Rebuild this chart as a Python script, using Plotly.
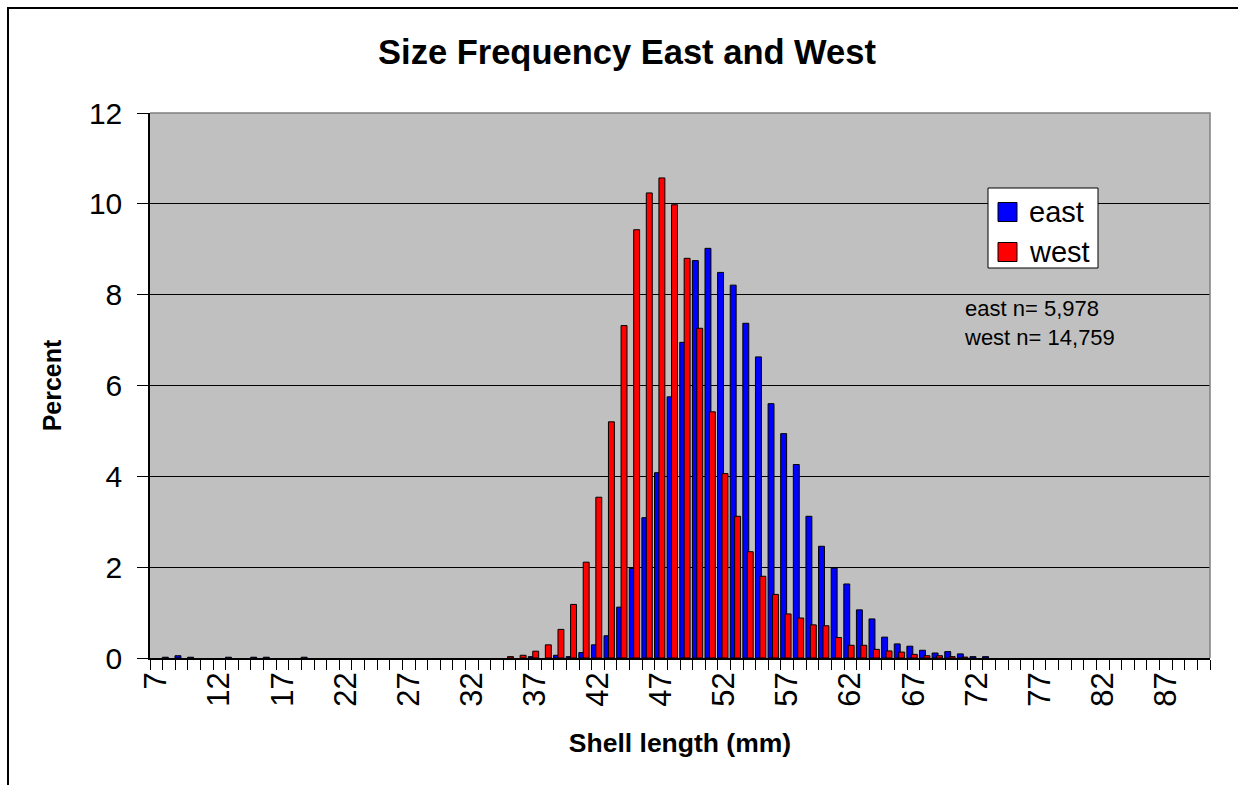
import plotly.graph_objects as go

# Shell length categories (mm)
categories = list(range(7, 91))

# Percent of shells per length class, east sample (7..90 mm)
east = [
    0, 0.017, 0.05, 0.017, 0, 0, 0.017, 0, 0.017, 0.017,      # 7-16
    0, 0, 0.017, 0, 0, 0, 0, 0, 0, 0,                         # 17-26
    0, 0, 0, 0, 0, 0, 0, 0, 0, 0,                             # 27-36
    0.03, 0, 0.06, 0.03, 0.12, 0.29, 0.49, 1.12, 1.97, 3.09,  # 37-46
    4.08, 5.75, 6.95, 8.75, 9.02, 8.49, 8.21, 7.37, 6.63, 5.60,  # 47-56
    4.94, 4.26, 3.12, 2.46, 1.98, 1.63, 1.06, 0.86, 0.46, 0.31,  # 57-66
    0.26, 0.17, 0.11, 0.14, 0.09, 0.03, 0.03, 0, 0, 0,        # 67-76
    0, 0, 0, 0, 0, 0, 0, 0, 0, 0,                             # 77-86
    0, 0, 0, 0,                                               # 87-90
]

# Percent of shells per length class, west sample (7..90 mm)
west = [
    0, 0, 0, 0, 0, 0, 0, 0, 0, 0,                             # 7-16
    0, 0, 0, 0, 0, 0, 0, 0, 0, 0,                             # 17-26
    0, 0, 0, 0, 0, 0, 0, 0, 0.03, 0.06,                       # 27-36
    0.15, 0.29, 0.63, 1.18, 2.11, 3.54, 5.20, 7.32, 9.43, 10.24,  # 37-46
    10.57, 9.98, 8.80, 7.26, 5.42, 4.06, 3.12, 2.34, 1.80, 1.40,  # 47-56
    0.97, 0.88, 0.73, 0.71, 0.45, 0.28, 0.28, 0.19, 0.155, 0.13,  # 57-66
    0.08, 0.05, 0.05, 0.03, 0.02, 0, 0, 0, 0, 0,             # 67-76
    0, 0, 0, 0, 0, 0, 0, 0, 0, 0,                             # 77-86
    0, 0, 0, 0,                                               # 87-90
]

series_names = ["east", "west"]
series_colors = ["#0000FF", "#FF0000"]
tick_labels = [str(v) for v in range(7, 91, 5)]
y_ticks = [0, 2, 4, 6, 8, 10, 12]

assert len(east) == len(categories) == len(west)

FONT = "Arial, Liberation Sans, sans-serif"


def nz(vals):
    # empty classes are not drawn at all (as in the original)
    return [v if v > 0 else None for v in vals]


fig = go.Figure()
fig.add_trace(go.Bar(
    x=categories, y=nz(east), name=series_names[0],
    marker=dict(color=series_colors[0], line=dict(color="black", width=1)),
    offset=-0.52, width=0.47, showlegend=False,
))
fig.add_trace(go.Bar(
    x=categories, y=nz(west), name=series_names[1],
    marker=dict(color=series_colors[1], line=dict(color="black", width=1)),
    offset=-0.17, width=0.47, showlegend=False,
))

fig.update_layout(
    width=1238, height=785,
    margin=dict(l=150, r=28, t=113, b=127),
    paper_bgcolor="white",
    plot_bgcolor="#C0C0C0",
    barmode="overlay",
    font=dict(family=FONT, color="black"),
    title=dict(
        text="<b>Size Frequency East and West</b>",
        font=dict(size=34.5, family=FONT, color="black"),
        x=627 / 1238, xref="container", xanchor="center",
        y=1 - 52 / 785, yref="container", yanchor="middle",
    ),
    showlegend=False,
)

fig.update_xaxes(
    range=[6.5, 90.5],
    tickmode="array",
    tickvals=list(range(7, 91, 5)),
    ticktext=tick_labels,
    tickangle=-90,
    ticks="",
    ticklabelstandoff=0,
    tickfont=dict(size=31, family=FONT, color="black"),
    minor=dict(tickmode="linear", tick0=6.5, dtick=1, ticks="outside",
               ticklen=10, tickcolor="black", tickwidth=1, showgrid=False),
    showline=True, linecolor="black", linewidth=1.5,
    showgrid=False, zeroline=False,
    title=dict(text="<b>Shell length (mm)</b>",
               font=dict(size=26.5, family=FONT, color="black"), standoff=28),
)

fig.update_yaxes(
    range=[0, 12],
    tickmode="array", tickvals=y_ticks,
    ticks="outside", ticklen=11, tickcolor="black", tickwidth=1,
    ticklabelstandoff=9,
    tickfont=dict(size=30, family=FONT, color="black"),
    showline=True, linecolor="black", linewidth=1.5,
    showgrid=True, gridcolor="black", gridwidth=1,
    zeroline=False,
    title=dict(text="<b>Percent</b>",
               font=dict(size=25, family=FONT, color="black"), standoff=20),
)

# plot-area frame (top and right edges, grey as in the original)
fig.add_shape(type="path", xref="paper", yref="paper",
              path="M 0,1 L 1,1 L 1,0",
              line=dict(color="#808080", width=1.5), layer="above")

# outer chart border
fig.add_shape(type="rect", xref="paper", yref="paper",
              x0=(8 - 150) / 1060, x1=1.3,
              y0=-0.5, y1=(658 - 8) / 545,
              line=dict(color="black", width=2), layer="above")


def px_x(p):
    return (p - 150) / 1060


def px_y(p):
    return (658 - p) / 545


# legend box (white with black frame) with colour swatches
fig.add_shape(type="rect", xref="paper", yref="paper",
              x0=px_x(988), x1=px_x(1098), y0=px_y(268), y1=px_y(188),
              line=dict(color="black", width=1), fillcolor="white",
              layer="above")
for i, (name, col) in enumerate(zip(series_names, series_colors)):
    cy = 212 + i * 40
    fig.add_shape(type="rect", xref="paper", yref="paper",
                  x0=px_x(998), x1=px_x(1017), y0=px_y(cy + 9.5), y1=px_y(cy - 9.5),
                  line=dict(color="black", width=1), fillcolor=col,
                  layer="above")
    fig.add_annotation(
        text=name, xref="paper", yref="paper",
        x=px_x(1027), y=px_y(cy), xanchor="left", yanchor="middle",
        showarrow=False, font=dict(size=29, family=FONT, color="black"),
    )

fig.add_annotation(
    text="east n= 5,978<br>west n= 14,759",
    xref="paper", yref="paper",
    x=px_x(962), y=px_y(294),
    xanchor="left", yanchor="top", align="left", showarrow=False,
    font=dict(size=22, family=FONT, color="black"),
)

fig.write_html("out.html")
